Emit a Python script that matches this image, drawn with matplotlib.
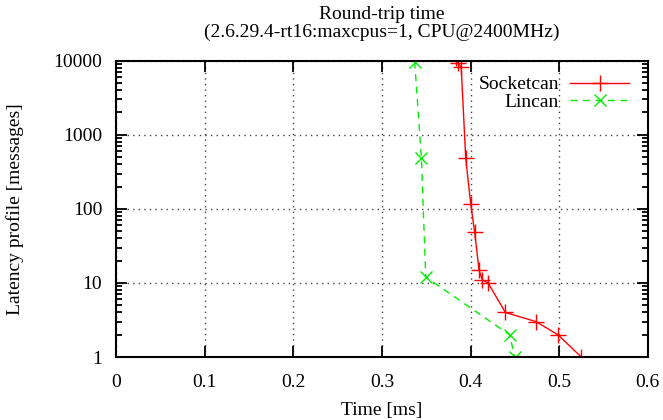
import matplotlib
matplotlib.use('Agg')
import matplotlib.pyplot as plt
from matplotlib.ticker import FixedLocator, FixedFormatter, LogLocator, NullFormatter

plt.rcParams['font.family'] = ['Liberation Serif', 'DejaVu Serif']
plt.rcParams['font.size'] = 14

# data
sock_x = [0.384, 0.386, 0.3895, 0.3946, 0.4002, 0.4047, 0.4096, 0.4133, 0.4198, 0.4393, 0.474, 0.4985, 0.525]
sock_y = [11000, 9200, 8200, 480, 118, 48, 15, 11, 10, 4, 3, 2, 1]
lin_x = [0.337, 0.3446, 0.3495, 0.444, 0.450]
lin_y = [9700, 480, 12, 2, 1]

xticks = [0, 0.1, 0.2, 0.3, 0.4, 0.5, 0.6]
xlabels = ['0', '0.1', '0.2', '0.3', '0.4', '0.5', '0.6']
yticks = [1, 10, 100, 1000, 10000]
ylabels = ['1', '10', '100', '1000', '10000']

fig = plt.figure(figsize=(6.63, 4.20), dpi=100)
ax = fig.add_axes([0.175, 0.15, 0.802, 0.7055])

ax.plot(sock_x, sock_y, color='red', lw=1, marker='+', ms=11, mew=1, label='Socketcan')
ax.plot(lin_x, lin_y, color='#00ee00', lw=1, ls=(0, (5, 4)), marker='x', ms=9, mew=1, label='Lincan')

ax.set_yscale('log')
ax.set_xlim(0, 0.6)
ax.set_ylim(1, 10000)
ax.xaxis.set_major_locator(FixedLocator(xticks))
ax.xaxis.set_major_formatter(FixedFormatter(xlabels))
ax.yaxis.set_major_locator(FixedLocator(yticks))
ax.yaxis.set_major_formatter(FixedFormatter(ylabels))
ax.yaxis.set_minor_locator(LogLocator(base=10, subs=range(2, 10)))
ax.yaxis.set_minor_formatter(NullFormatter())

ax.tick_params(which='both', direction='in', top=True, right=True, width=1.3, labelsize=14)
ax.tick_params(axis='x', pad=12)
ax.tick_params(axis='y', pad=10)
ax.tick_params(which='major', length=8)
ax.tick_params(which='minor', length=4)
for s in ax.spines.values():
    s.set_linewidth(1.5)

ax.grid(True, which='major', color='#444444', ls=(0, (1, 3)), lw=1)

ax.set_xlabel('Time [ms]', labelpad=8)
ax.set_ylabel('Latency profile [messages]', labelpad=21)
ax.set_title('Round-trip time\n(2.6.29.4-rt16:maxcpus=1, CPU@2400MHz)', fontsize=14, linespacing=1.05, pad=17)

ax.legend(loc='upper right', bbox_to_anchor=(0.99, 0.995), frameon=False, markerfirst=False,
          handlelength=3.0, fontsize=14, borderaxespad=0.3, labelspacing=0.0, handletextpad=0.6)

fig.savefig('out.png', dpi=100)
